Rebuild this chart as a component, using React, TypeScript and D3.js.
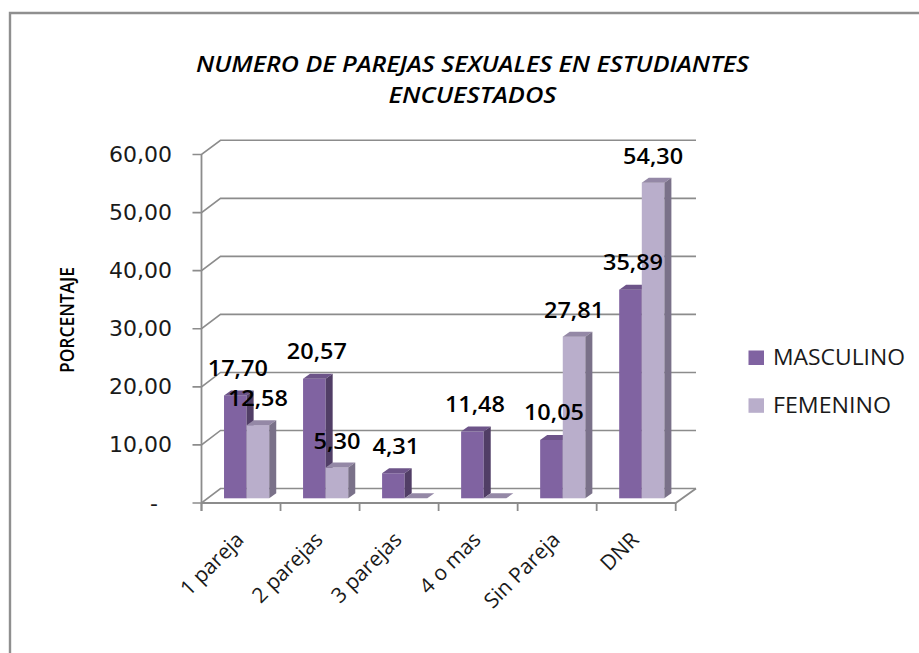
import React from "react";
import * as d3 from "d3";

const categories = ["1 pareja", "2 parejas", "3 parejas", "4 o mas", "Sin Pareja", "DNR"];
const masculino = [17.7, 20.57, 4.31, 11.48, 10.05, 35.89];
const femenino = [12.58, 5.3, 0, 0, 27.81, 54.3];
const masculinoLabels = ["17,70", "20,57", "4,31", "11,48", "10,05", "35,89"];
const femeninoLabels = ["12,58", "5,30", "", "", "27,81", "54,30"];
const tickValues = [0, 10, 20, 30, 40, 50, 60];
const tickLabels = ["-", "10,00", "20,00", "30,00", "40,00", "50,00", "60,00"];
const titleLines = ["NUMERO DE PAREJAS SEXUALES EN ESTUDIANTES", "ENCUESTADOS"];
const seriesNames = ["MASCULINO", "FEMENINO"];

const FONT = "'Open Sans', 'Noto Sans', sans-serif";
const DX = 7;
const DY = 5;

// [front face, top face, side face]
const masColors = ["#8063a1", "#6d5489", "#513e66"];
const femColors = ["#b9aecb", "#9488a6", "#7a7189"];

export default function App() {
  const x = d3.scaleBand<string>().domain(categories).range([201.5, 675.7]).paddingInner(0).paddingOuter(0);
  const yFront = d3.scaleLinear().domain([0, 60]).range([503, 154.5]);
  const yBack = d3.scaleLinear().domain([0, 60]).range([488.5, 140.3]);
  const yBar = d3.scaleLinear().domain([0, 60]).range([498.3, 149.5]);
  const step = x.bandwidth();
  const barW = step * 0.286;
  const gap = step * 0.285;
  const xEnd = 675.7;
  const xL = 201.5;

  const axis = "#8c8c8c";

  const bar = (v: number, bx: number, cols: string[], key: string) => {
    const top = yBar(v);
    const bottom = yBar(0);
    return (
      <g key={key}>
        {v > 0 && <rect x={bx} y={top} width={barW} height={bottom - top} fill={cols[0]} />}
        <path
          d={`M${bx},${top}L${bx + DX},${top - DY}L${bx + barW + DX},${top - DY}L${bx + barW},${top}Z`}
          fill={cols[1]}
        />
        {v > 0 && (
          <path
            d={`M${bx + barW},${top}L${bx + barW + DX},${top - DY}L${bx + barW + DX},${bottom - DY}L${bx + barW},${bottom}Z`}
            fill={cols[2]}
          />
        )}
      </g>
    );
  };

  return (
    <svg
      width={919}
      height={653}
      viewBox="0 0 919 653"
      style={{ position: "absolute", left: 0, top: 0, background: "#fff" }}
    >
      <path d="M10,653V13H919" fill="none" stroke="#8f8f8f" strokeWidth={2.4} />

      {titleLines.map((t, i) => (
        <text
          key={t}
          x={472.5}
          y={71.5 + i * 31.5}
          textAnchor="middle"
          fontFamily={FONT}
          fontSize={21}
          fontWeight={600}
          fontStyle="italic"
          fill="#000"
          textLength={i === 0 ? 553 : 168}
          lengthAdjust="spacingAndGlyphs"
        >
          {t}
        </text>
      ))}

      {/* gridlines with depth connectors */}
      {tickValues.map((v) => (
        <path
          key={v}
          d={`M${xL - 9},${yFront(v)}H${xL}L${xL + 19},${yBack(v)}H696`}
          fill="none"
          stroke={axis}
          strokeWidth={1.6}
        />
      ))}
      {/* value axis */}
      <line x1={xL} x2={xL} y1={yFront(60)} y2={yFront(0) + 8} stroke={axis} strokeWidth={1.8} />
      {/* floor */}
      <path d={`M${xL},${yFront(0)}H${xEnd}L696,${yBack(0)}`} fill="none" stroke={axis} strokeWidth={1.8} />
      {d3.range(categories.length + 1).map((i) => (
        <line
          key={i}
          x1={xL + i * step}
          x2={xL + i * step}
          y1={yFront(0)}
          y2={yFront(0) + 8}
          stroke={axis}
          strokeWidth={1.8}
        />
      ))}

      {/* bars */}
      {categories.map((c, i) => {
        const x0 = (x(c) as number) + gap;
        return (
          <g key={c}>
            {bar(masculino[i], x0, masColors, c + "m")}
            {bar(femenino[i], x0 + barW, femColors, c + "f")}
          </g>
        );
      })}

      {/* tick labels */}
      {tickValues.map((v, i) => (
        <text
          key={v}
          x={v === 0 ? 154 : 172}
          y={yFront(v) + 7.5}
          textAnchor={v === 0 ? "middle" : "end"}
          fontFamily="'DejaVu Sans', sans-serif"
          fontSize={22}
          fill="#1a1a1a"
        >
          {tickLabels[i]}
        </text>
      ))}

      {/* category labels */}
      {categories.map((c) => {
        const tx = (x(c) as number) + step / 2 + 4;
        const ty = 541;
        return (
          <text
            key={c}
            transform={`translate(${tx},${ty}) rotate(-45)`}
            textAnchor="end"
            fontFamily={FONT}
            fontSize={21}
            fill="#1a1a1a"
          >
            {c}
          </text>
        );
      })}

      {/* data labels */}
      {categories.map((c, i) => {
        const x0 = (x(c) as number) + gap;
        const w = (s: string) => (s.length === 5 ? 60 : 47);
        return (
          <g key={c} fontFamily={FONT} fontSize={22} fontWeight={600} fill="#000" textAnchor="middle">
            <text
              x={x0 + barW / 2 + 2.5}
              y={yBar(masculino[i]) - 19.5}
              textLength={w(masculinoLabels[i])}
              lengthAdjust="spacingAndGlyphs"
            >
              {masculinoLabels[i]}
            </text>
            {femeninoLabels[i] && (
              <text
                x={x0 + barW * 1.5}
                y={yBar(femenino[i]) - 18.7}
                textLength={w(femeninoLabels[i])}
                lengthAdjust="spacingAndGlyphs"
              >
                {femeninoLabels[i]}
              </text>
            )}
          </g>
        );
      })}

      {/* axis title */}
      <text
        transform="translate(74,320) rotate(-90)"
        textAnchor="middle"
        fontFamily={FONT}
        fontSize={20}
        fontWeight={600}
        fill="#000"
        textLength={106}
        lengthAdjust="spacingAndGlyphs"
      >
        PORCENTAJE
      </text>

      {/* legend */}
      {seriesNames.map((s, i) => (
        <g key={s}>
          <rect x={748.5} y={350.5 + i * 47.8} width={15.5} height={14.5} fill={i === 0 ? masColors[0] : femColors[0]} />
          <text
            x={773}
            y={365 + i * 48.3}
            fontFamily={FONT}
            fontSize={21}
            fill="#1a1a1a"
            textLength={i === 0 ? 132 : 118}
            lengthAdjust="spacingAndGlyphs"
          >
            {s}
          </text>
        </g>
      ))}
    </svg>
  );
}
